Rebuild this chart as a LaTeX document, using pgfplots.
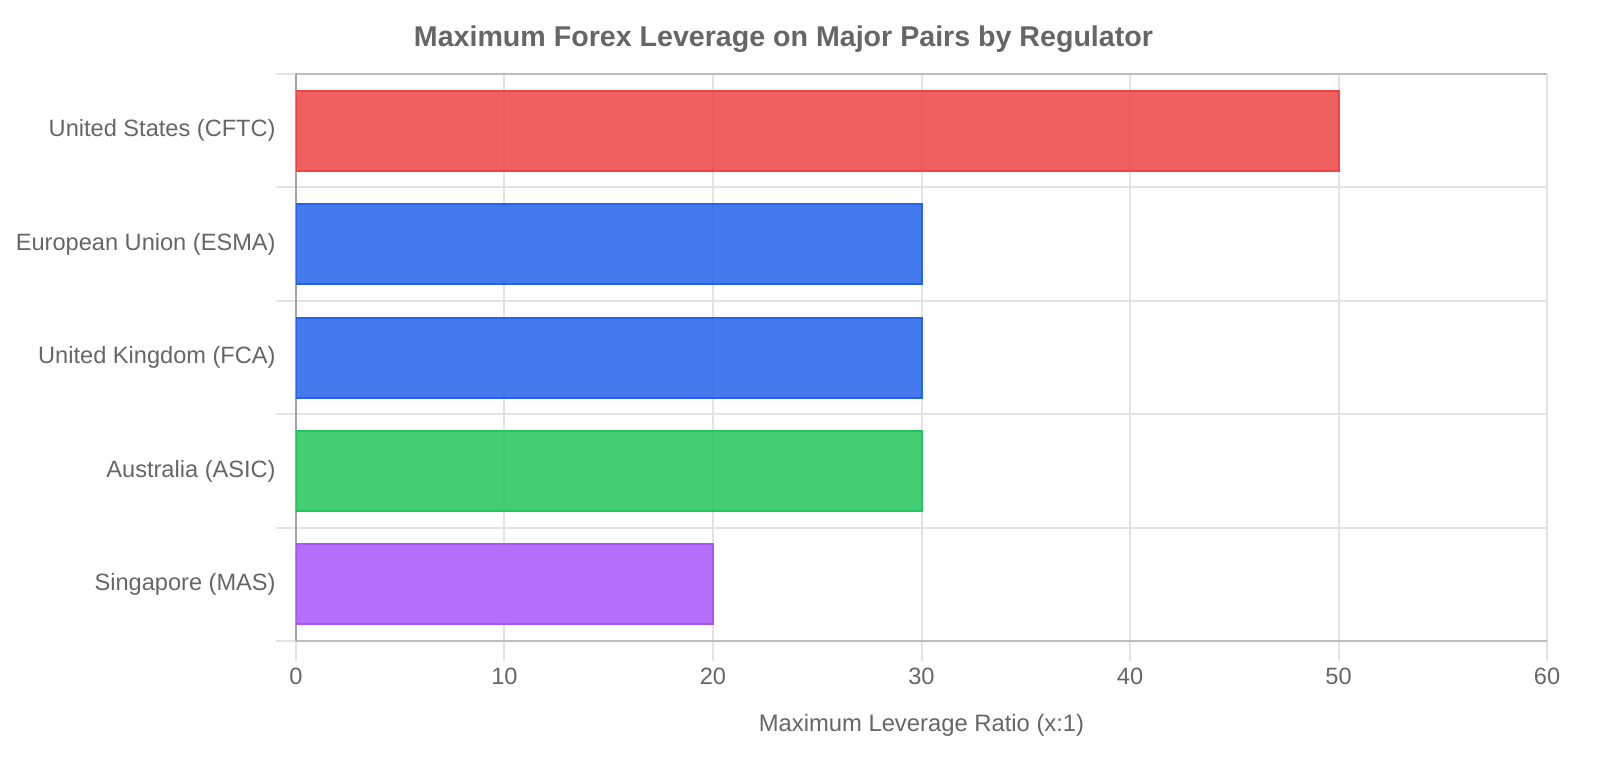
\documentclass[border=0pt]{standalone}
\usepackage{fontspec}
\setmainfont{Liberation Sans}
\usepackage{pgfplots}
\pgfplotsset{compat=1.18}
\definecolor{txt}{HTML}{666666}
\definecolor{gridc}{HTML}{E3E3E3}
\definecolor{cred}{RGB}{239,68,68}
\definecolor{cblue}{RGB}{37,99,235}
\definecolor{cgreen}{RGB}{34,197,94}
\definecolor{cpurple}{RGB}{168,85,247}

\begin{document}
\begin{tikzpicture}
% page is 800pt x 380pt = 1600 x 760 px; axis box lower-left at the origin
\path[use as bounding box] (-148pt,-59.5pt) rectangle (652pt,320.5pt);
\node[anchor=base, font=\fontsize{14.3}{16}\selectfont\bfseries, text=txt]
  at (243.75pt,297pt) {Maximum Forex Leverage on Major Pairs by Regulator};
\begin{axis}[
    scale only axis,
    width=625.5pt,
    height=283.5pt,
    xbar,
    bar width=40pt,
    bar shift=0pt,
    xmin=0, xmax=60,
    ymin=-0.5, ymax=4.5,
    xtick={0,10,...,60},
    ytick={0,1,2,3,4},
    yticklabels={Singapore (MAS), Australia (ASIC), United Kingdom (FCA), European Union (ESMA), United States (CFTC)},
    minor ytick={-0.5,0.5,1.5,2.5,3.5,4.5},
    axis x line*=box,
    axis y line*=left,
    xtick pos=lower,
    ytick pos=left,
    tick align=outside,
    major tick length=10pt,
    minor tick length=10pt,
    every major y tick/.append style={draw=none},
    tick style={draw=gridc, line width=1pt},
    xmajorgrids=true,
    yminorgrids=true,
    grid style={draw=gridc, line width=1pt},
    x axis line style={draw=black!26, line width=1pt},
    y axis line style={draw=black!36, line width=1pt},
    ticklabel style={font=\fontsize{11.8}{14}\selectfont, text=txt},
    yticklabel style={inner sep=0pt},
    /pgf/number format/assume math mode=true,
    xlabel={Maximum Leverage Ratio (x:1)},
    xlabel style={font=\fontsize{11.9}{14}\selectfont, text=txt,
        at={(axis description cs:0.5,0)}, anchor=base, yshift=-45pt},
]
\addplot[draw=cred, fill=cred, fill opacity=0.85, line width=1pt] coordinates {(50,4)};
\addplot[draw=cblue, fill=cblue, fill opacity=0.85, line width=1pt] coordinates {(30,3)};
\addplot[draw=cblue, fill=cblue, fill opacity=0.85, line width=1pt] coordinates {(30,2)};
\addplot[draw=cgreen, fill=cgreen, fill opacity=0.85, line width=1pt] coordinates {(30,1)};
\addplot[draw=cpurple, fill=cpurple, fill opacity=0.85, line width=1pt] coordinates {(20,0)};
\end{axis}
\end{tikzpicture}
\end{document}
